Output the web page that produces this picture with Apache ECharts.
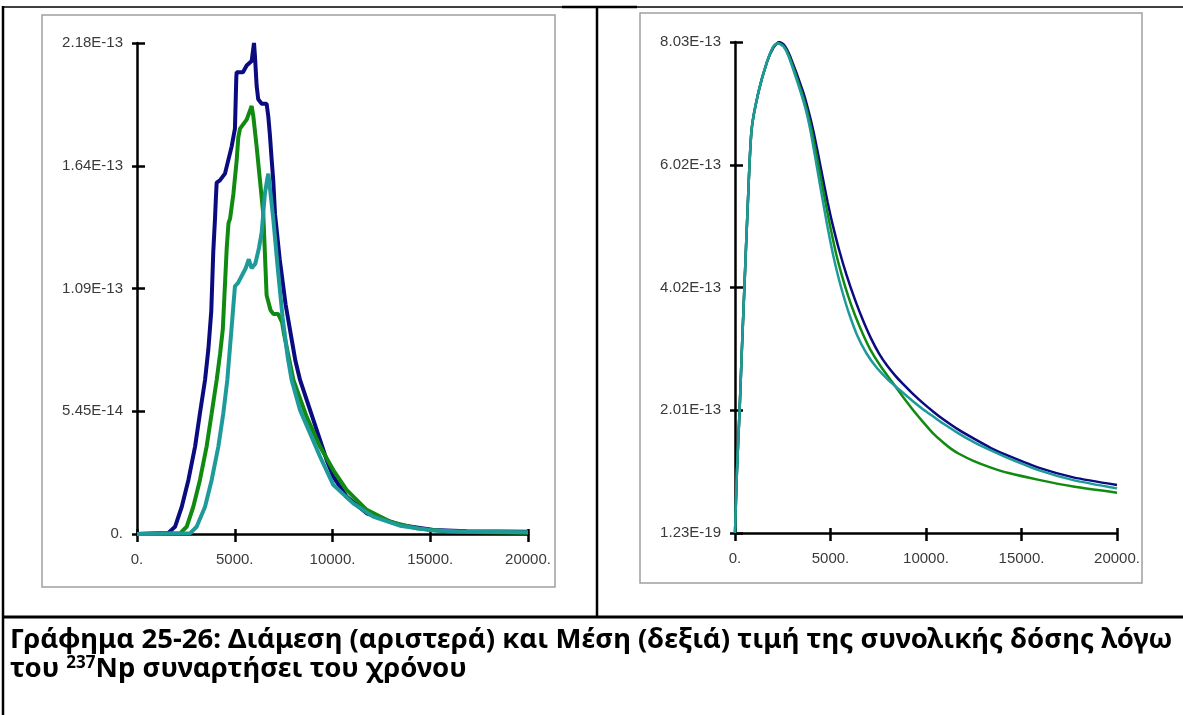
<!DOCTYPE html>
<html>
<head>
<meta charset="utf-8">
<script src="https://cdn.jsdelivr.net/npm/echarts@6/dist/echarts.min.js"></script>
<style>
  html, body { margin: 0; padding: 0; background: #fff; }
  #chart { position: absolute; left: 0; top: 0; width: 1183px; height: 715px; }
  .cap { position: absolute; left: 10px; white-space: nowrap; font-family: "Noto Sans", "Open Sans", sans-serif;
         font-weight: bold; color: #000; line-height: 1; }
  .cap sup { font-size: 62%; vertical-align: 0.55em; line-height: 0; }
</style>
</head>
<body>
<div id="chart"></div>
<div class="cap" id="cap1">Γράφημα 25-26: Διάμεση (αριστερά) και Μέση (δεξιά) τιμή της συνολικής δόσης λόγω</div>
<div class="cap" id="cap2">του <sup>237</sup>Np συναρτήσει του χρόνου</div>
<script>
// values are in units of 1E-13, time on the x axis
var leftYLabels = ['0.', '5.45E-14', '1.09E-13', '1.64E-13', '2.18E-13'];
var rightYLabels = ['1.23E-19', '2.01E-13', '4.02E-13', '6.02E-13', '8.03E-13'];
var seriesColors = ['#0b0b80', '#118a11', '#1f9a9a'];

// left chart: median
var leftNavy = [[0,0],[1600,0.005],[1945,0.032],[2290,0.121],[2630,0.24],[2970,0.388],[3220,0.536],[3480,0.684],[3650,0.82],[3800,0.99],[3900,1.25],[3990,1.40],[4040,1.50],[4075,1.56],[4240,1.57],[4500,1.60],[4670,1.66],[4840,1.72],[5010,1.80],[5080,2.03],[5100,2.05],[5420,2.05],[5610,2.08],[5865,2.10],[5985,2.18],[6035,2.12],[6120,1.99],[6200,1.93],[6380,1.91],[6630,1.91],[6715,1.855],[6800,1.77],[6890,1.66],[6970,1.57],[7060,1.42],[7300,1.22],[7600,1.02],[7900,0.87],[8100,0.77],[8340,0.684],[8680,0.596],[9020,0.507],[9360,0.418],[9700,0.329],[10040,0.255],[10720,0.166],[11750,0.092],[13450,0.04],[15160,0.018],[16860,0.012],[18500,0.011],[20000,0.01]];
var leftGreen = [[0,0],[2200,0.003],[2540,0.032],[2880,0.121],[3220,0.24],[3560,0.388],[3820,0.536],[4075,0.684],[4250,0.80],[4390,0.91],[4590,1.27],[4680,1.38],[4760,1.40],[4930,1.51],[5100,1.66],[5180,1.76],[5270,1.80],[5610,1.84],[5865,1.90],[5950,1.855],[6120,1.72],[6290,1.57],[6460,1.42],[6630,1.06],[6830,0.994],[6970,0.977],[7220,0.977],[7420,0.94],[7515,0.89],[8000,0.684],[8680,0.52],[9360,0.388],[10040,0.284],[10720,0.196],[11750,0.107],[12940,0.055],[14300,0.025],[16000,0.01],[20000,0.005]];
var leftTeal = [[0,0],[2710,0.003],[3050,0.032],[3480,0.121],[3820,0.24],[4160,0.388],[4415,0.536],[4620,0.684],[4880,0.96],[5010,1.10],[5170,1.115],[5560,1.18],[5720,1.22],[5860,1.18],[6050,1.20],[6240,1.27],[6380,1.34],[6540,1.51],[6670,1.58],[6720,1.60],[6970,1.40],[7200,1.18],[7450,0.96],[7700,0.79],[7910,0.684],[8340,0.55],[8850,0.448],[9360,0.344],[10040,0.218],[11060,0.136],[12080,0.077],[13450,0.037],[15160,0.015],[17000,0.01],[20000,0.008]];

// right chart: mean
var rightNavy = [[0,0],[100,1.0],[240,2.0],[360,3.0],[490,4.0],[680,5.45],[870,6.6],[1220,7.2],[1660,7.69],[2000,7.93],[2320,8.03],[2600,7.97],[2880,7.80],[3580,7.20],[3850,6.90],[4100,6.58],[4350,6.20],[4600,5.80],[4850,5.41],[5100,5.06],[5460,4.62],[5850,4.21],[6300,3.80],[6700,3.48],[7140,3.17],[7550,2.93],[7980,2.73],[8400,2.57],[8820,2.43],[9300,2.28],[9860,2.12],[10400,1.98],[10900,1.86],[11700,1.69],[12580,1.53],[13400,1.39],[14330,1.26],[15970,1.06],[17710,0.91],[20000,0.786]];
var rightGreen = [[0,0],[100,1.0],[240,2.0],[360,3.0],[490,4.0],[680,5.45],[870,6.6],[1220,7.2],[1660,7.69],[2000,7.95],[2250,8.01],[2550,7.96],[2830,7.80],[3500,7.20],[3760,6.92],[4020,6.58],[4270,6.18],[4520,5.76],[4770,5.35],[5020,4.96],[5300,4.56],[5580,4.23],[5900,3.90],[6285,3.56],[6700,3.25],[7085,3.00],[7600,2.74],[8200,2.48],[8810,2.22],[9300,2.02],[9860,1.81],[10400,1.62],[10900,1.48],[11300,1.38],[11700,1.30],[12480,1.18],[13400,1.07],[14330,0.98],[15970,0.865],[17710,0.76],[20000,0.66]];
var rightTeal = [[0,0],[100,1.0],[240,2.0],[360,3.0],[490,4.0],[680,5.45],[870,6.6],[1220,7.2],[1660,7.69],[2000,7.95],[2250,8.01],[2530,7.96],[2800,7.80],[3450,7.20],[3700,6.93],[3940,6.60],[4180,6.18],[4420,5.75],[4650,5.34],[4890,4.93],[5150,4.53],[5400,4.20],[5680,3.88],[5970,3.59],[6400,3.23],[6880,2.94],[7400,2.71],[7940,2.53],[8400,2.40],[8810,2.29],[9300,2.16],[9860,2.02],[10400,1.90],[10900,1.79],[11700,1.63],[12480,1.49],[13400,1.35],[14330,1.22],[15970,1.02],[17710,0.865],[20000,0.73]];

var axisFont = { color: '#3a3a3a', fontFamily: 'Liberation Sans, Arial, sans-serif', fontSize: 15 };
var black = { color: '#000', width: 2.5 };

function xAxes(g) {
  return [
    { gridIndex: g, type: 'value', position: 'bottom', min: 0, max: 20000, interval: 5000,
      axisLine: { show: true, onZero: false, lineStyle: black },
      axisTick: { show: true, length: 8, lineStyle: black },
      axisLabel: Object.assign({ margin: 18, formatter: function (v) { return v + '.'; } }, axisFont),
      splitLine: { show: false } },
    { gridIndex: g, type: 'value', position: 'bottom', min: 0, max: 20000, interval: 5000,
      axisLine: { show: false },
      axisTick: { show: true, inside: true, length: 5, lineStyle: black },
      axisLabel: { show: false }, splitLine: { show: false } }
  ];
}
function yAxes(g, max, labels) {
  return [
    { gridIndex: g, type: 'value', position: 'left', min: 0, max: max, interval: max / 4,
      axisLine: { show: true, onZero: false, lineStyle: black },
      axisTick: { show: true, length: 5, lineStyle: black },
      axisLabel: Object.assign({ margin: 14, formatter: function (v, i) { return labels[i]; } }, axisFont),
      splitLine: { show: false } },
    { gridIndex: g, type: 'value', position: 'left', min: 0, max: max, interval: max / 4,
      axisLine: { show: false },
      axisTick: { show: true, inside: true, length: 8, lineStyle: black },
      axisLabel: { show: false }, splitLine: { show: false } }
  ];
}
function line(name, data, xi, yi, color, width, smooth) {
  return { name: name, type: 'line', xAxisIndex: xi, yAxisIndex: yi, data: data, showSymbol: false,
           smooth: smooth, lineStyle: { color: color, width: width }, itemStyle: { color: color } };
}

var chart = echarts.init(document.getElementById('chart'), null, { renderer: 'canvas' });
chart.setOption({
  animation: false,
  backgroundColor: '#fff',
  grid: [
    { left: 137, top: 43, width: 391, height: 491 },
    { left: 735, top: 42, width: 382, height: 491 }
  ],
  xAxis: xAxes(0).concat(xAxes(1)),
  yAxis: yAxes(0, 2.18, leftYLabels).concat(yAxes(1, 8.03, rightYLabels)),
  series: [
    line('navy', leftNavy, 0, 0, seriesColors[0], 4, false),
    line('green', leftGreen, 0, 0, seriesColors[1], 4, false),
    line('teal', leftTeal, 0, 0, seriesColors[2], 4, false),
    line('navy', rightNavy, 2, 2, seriesColors[0], 2.5, 0.25),
    line('green', rightGreen, 2, 2, seriesColors[1], 2.5, 0.25),
    line('teal', rightTeal, 2, 2, seriesColors[2], 2.5, 0.25)
  ],
  graphic: [
    // table borders
    { type: 'line', z: 0, shape: { x1: 3, y1: 7, x2: 1183, y2: 7 }, style: { stroke: '#000', lineWidth: 1.5 } },
    { type: 'line', z: 0, shape: { x1: 562, y1: 7, x2: 637, y2: 7 }, style: { stroke: '#000', lineWidth: 2.5 } },
    { type: 'line', z: 0, shape: { x1: 3, y1: 6, x2: 3, y2: 715 }, style: { stroke: '#000', lineWidth: 2.5 } },
    { type: 'line', z: 0, shape: { x1: 597, y1: 6, x2: 597, y2: 617 }, style: { stroke: '#000', lineWidth: 2.5 } },
    { type: 'line', z: 0, shape: { x1: 2, y1: 617, x2: 1183, y2: 617 }, style: { stroke: '#000', lineWidth: 3 } },
    // picture frames
    { type: 'rect', z: 0, shape: { x: 42, y: 15, width: 513, height: 572 }, style: { fill: 'none', stroke: '#a0a0a0', lineWidth: 1.5 } },
    { type: 'rect', z: 0, shape: { x: 640, y: 13, width: 502, height: 570 }, style: { fill: 'none', stroke: '#a0a0a0', lineWidth: 1.5 } }
  ]
});

// fit caption to the width of the first line
var cap1 = document.getElementById('cap1');
var cap2 = document.getElementById('cap2');
var fs = 22;
cap1.style.fontSize = fs + 'px';
fs = fs * 1163 / cap1.getBoundingClientRect().width;
cap1.style.fontSize = fs + 'px';
cap2.style.fontSize = fs + 'px';
cap1.style.top = (649 - 0.9 * fs) + 'px';
cap2.style.top = (678 - 0.9 * fs) + 'px';
</script>
</body>
</html>
